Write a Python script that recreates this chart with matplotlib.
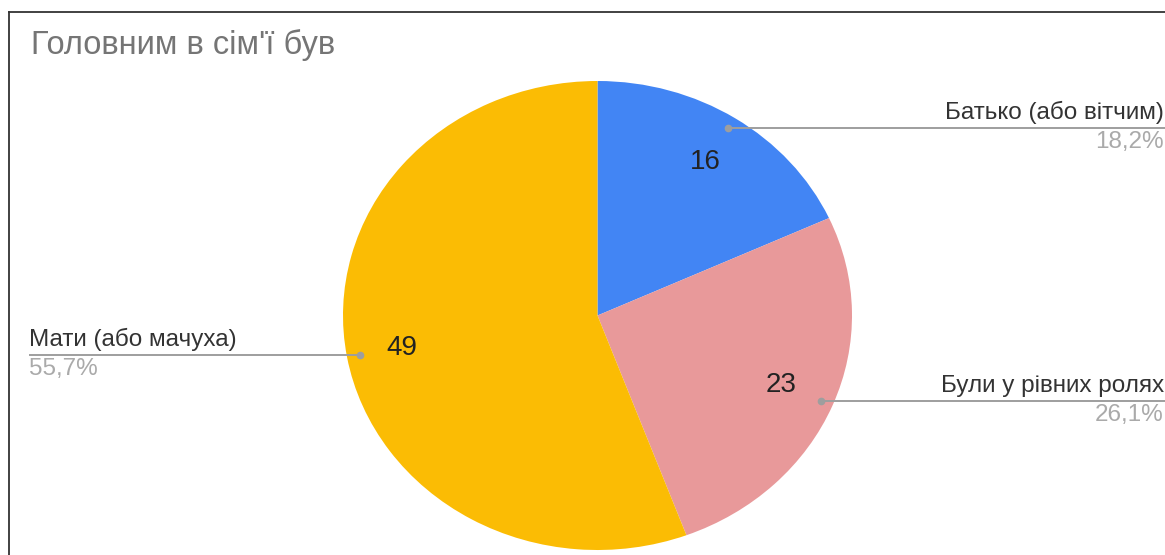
import numpy as np
import matplotlib
matplotlib.use("Agg")
import matplotlib.pyplot as plt
from matplotlib.lines import Line2D

plt.rcParams['font.family'] = ['Liberation Sans', 'DejaVu Sans']

title = "Головним в сім'ї був"
categories = ["Батько (або вітчим)", "Були у рівних ролях", "Мати (або мачуха)"]
values = [16, 23, 49]
colors = ["#4285F4", "#E8999A", "#FBBC04"]

W, H = 1165, 555
fig = plt.figure(figsize=(W / 100, H / 100), dpi=100)

# pie axes (slightly stretched horizontally like the reference)
ax = fig.add_axes([343 / W, (H - 550) / H, 509 / W, 469 / H])
total = sum(values)
wedges, _t, autotexts = ax.pie(values, colors=colors, startangle=90, counterclock=False,
                               autopct=lambda p: f"{p * total / 100:.0f}", pctdistance=0.78,
                               wedgeprops=dict(linewidth=0),
                               textprops=dict(fontsize=20, color="#222222"))
ax.set_aspect('auto')
ax.set_xlim(-1, 1)
ax.set_ylim(-1, 1)

# frame lines
fig.add_artist(Line2D([9 / W, 9 / W], [0, 1 - 12 / H], transform=fig.transFigure, color="#333333", lw=1.3))
fig.add_artist(Line2D([9 / W, 1], [1 - 12 / H, 1 - 12 / H], transform=fig.transFigure, color="#333333", lw=1.3))

fig.text(31 / W, 1 - 45 / H, title, fontsize=23.5, color="#757575", va='center', ha='left')

# leader lines and labels
fig.canvas.draw()
inv = fig.transFigure.inverted()
for w, name, v in zip(wedges, categories, values):
    ang = np.deg2rad((w.theta1 + w.theta2) / 2)
    px, py = 0.95 * np.cos(ang), 0.95 * np.sin(ang)
    fx, fy = inv.transform(ax.transData.transform((px, py)))
    pct = f"{100 * v / total:.1f}%".replace(".", ",")
    if np.cos(ang) >= 0:
        xend = 1.0
        tx, ha = 1164 / W, 'right'
    else:
        xend = 30 / W
        tx, ha = 29 / W, 'left'
    fig.add_artist(Line2D([fx, xend], [fy, fy], transform=fig.transFigure, color="#9E9E9E", lw=1.4))
    fig.add_artist(Line2D([fx], [fy], transform=fig.transFigure, color="#9E9E9E", marker='o',
                          markersize=4.5, lw=0))
    fig.text(tx, fy + 4 / H, name, fontsize=17.5, color="#333333", ha=ha, va='bottom')
    fig.text(tx, fy - 3 / H, pct, fontsize=17.5, color="#AAAAAA", ha=ha, va='top')

fig.savefig("out.png", dpi=100, facecolor="white")
